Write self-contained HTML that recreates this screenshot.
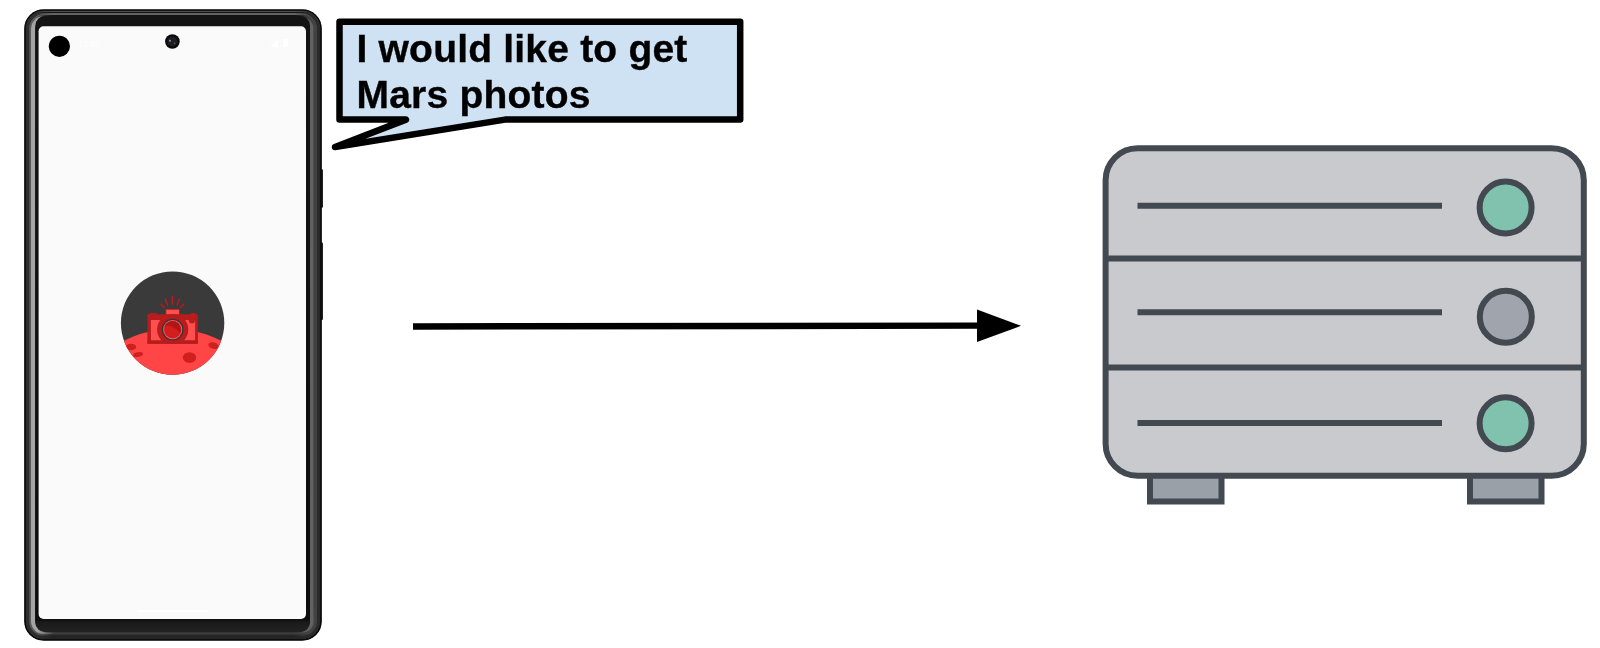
<!DOCTYPE html>
<html><head><meta charset="utf-8">
<style>
html,body{margin:0;padding:0;background:#fff;width:1600px;height:648px;overflow:hidden;}
svg{position:absolute;left:0;top:0;display:block;}
.t{font-family:"Liberation Sans",sans-serif;font-weight:bold;font-size:39px;fill:#000;letter-spacing:0.2px;stroke:#000;stroke-width:0.35px;}
</style></head>
<body>
<svg width="1600" height="648" viewBox="0 0 1600 648">
  <defs>
    <linearGradient id="bzH" x1="0" x2="1" y1="0" y2="0">
      <stop offset="0" stop-color="#1a1a1a"/>
      <stop offset="0.35" stop-color="#2a2a2a"/>
      <stop offset="0.5" stop-color="#5a5a5a"/>
      <stop offset="0.65" stop-color="#2a2a2a"/>
      <stop offset="1" stop-color="#151515"/>
    </linearGradient>
    <clipPath id="mc"><circle cx="172.6" cy="323.1" r="51.7"/></clipPath>
  </defs>

  <!-- PHONE -->
  <defs>
  <linearGradient id="gL1" gradientUnits="userSpaceOnUse" x1="36" x2="52" y1="0" y2="0"><stop offset="0" stop-color="#2e2e2e"/><stop offset="1" stop-color="#2e2e2e" stop-opacity="0"/></linearGradient>
  <linearGradient id="gL2" gradientUnits="userSpaceOnUse" x1="36" x2="52" y1="0" y2="0"><stop offset="0" stop-color="#5a5a5a"/><stop offset="1" stop-color="#5a5a5a" stop-opacity="0"/></linearGradient>
  <linearGradient id="gL3" gradientUnits="userSpaceOnUse" x1="38" x2="54" y1="0" y2="0"><stop offset="0" stop-color="#a5a5a5"/><stop offset="1" stop-color="#a5a5a5" stop-opacity="0"/></linearGradient>
  <linearGradient id="gR1" gradientUnits="userSpaceOnUse" x1="310" x2="294" y1="0" y2="0"><stop offset="0" stop-color="#2a2a2a"/><stop offset="1" stop-color="#2a2a2a" stop-opacity="0"/></linearGradient>
  <linearGradient id="gR2" gradientUnits="userSpaceOnUse" x1="310" x2="294" y1="0" y2="0"><stop offset="0" stop-color="#424242"/><stop offset="1" stop-color="#424242" stop-opacity="0"/></linearGradient>
  <linearGradient id="gR3" gradientUnits="userSpaceOnUse" x1="308" x2="292" y1="0" y2="0"><stop offset="0" stop-color="#626262"/><stop offset="1" stop-color="#626262" stop-opacity="0"/></linearGradient>
  <linearGradient id="gT1" gradientUnits="userSpaceOnUse" x1="0" x2="0" y1="20" y2="34"><stop offset="0" stop-color="#4e4e4e"/><stop offset="1" stop-color="#4e4e4e" stop-opacity="0"/></linearGradient>
  <linearGradient id="gT2" gradientUnits="userSpaceOnUse" x1="0" x2="0" y1="20" y2="34"><stop offset="0" stop-color="#646464"/><stop offset="1" stop-color="#646464" stop-opacity="0"/></linearGradient>
  <linearGradient id="gIn" gradientUnits="userSpaceOnUse" x1="0" x2="0" y1="15.8" y2="632.3"><stop offset="0" stop-color="#141414"/><stop offset="0.978" stop-color="#0c0c0c"/><stop offset="0.984" stop-color="#1a1a1a"/><stop offset="1" stop-color="#222"/></linearGradient>
  <linearGradient id="gB1" gradientUnits="userSpaceOnUse" x1="0" x2="0" y1="622" y2="608"><stop offset="0" stop-color="#242424"/><stop offset="1" stop-color="#242424" stop-opacity="0"/></linearGradient>
  <linearGradient id="gB2" gradientUnits="userSpaceOnUse" x1="0" x2="0" y1="622" y2="608"><stop offset="0" stop-color="#3c3c3c"/><stop offset="1" stop-color="#3c3c3c" stop-opacity="0"/></linearGradient>
  <clipPath id="pc"><rect x="24.2" y="9.3" width="297.6" height="631.4" rx="19.5"/></clipPath>
  </defs>
  <!-- side buttons -->
  <rect x="316" y="169.3" width="7" height="38.4" rx="1" fill="#222"/>
  <rect x="316" y="242.4" width="7" height="77.6" rx="1" fill="#222"/>
  <g clip-path="url(#pc)">
    <rect x="24.2" y="9.3" width="297.6" height="631.4" fill="#141414"/>
    <rect x="26.00" y="11.10" width="294.00" height="627.80" rx="17.70" fill="none" stroke="url(#gT1)" stroke-width="1.8"/>
    <rect x="28.90" y="14.00" width="288.20" height="622.00" rx="14.80" fill="none" stroke="url(#gT2)" stroke-width="2.0"/>
    <rect x="28.00" y="13.10" width="290.00" height="623.80" rx="15.70" fill="none" stroke="url(#gB1)" stroke-width="4.5"/>
    <rect x="31.70" y="16.80" width="282.60" height="616.40" rx="12.00" fill="none" stroke="url(#gB2)" stroke-width="3.0"/>
    <rect x="27.45" y="12.55" width="291.10" height="624.90" rx="16.25" fill="none" stroke="url(#gL1)" stroke-width="3.5"/>
    <rect x="30.10" y="15.20" width="285.80" height="619.60" rx="13.60" fill="none" stroke="url(#gL2)" stroke-width="1.8"/>
    <rect x="33.10" y="18.20" width="279.80" height="613.60" rx="10.60" fill="none" stroke="url(#gL3)" stroke-width="4.2"/>
    <rect x="27.50" y="12.60" width="291.00" height="624.80" rx="16.20" fill="none" stroke="url(#gR1)" stroke-width="3.0"/>
    <rect x="30.70" y="15.80" width="284.60" height="618.40" rx="13.00" fill="none" stroke="url(#gR2)" stroke-width="3.4"/>
    <rect x="34.20" y="19.30" width="277.60" height="611.40" rx="9.50" fill="none" stroke="url(#gR3)" stroke-width="3.7"/>
    <rect x="35.3" y="15.8" width="274.7" height="616.5" rx="10" fill="url(#gIn)"/>
    <rect x="24.95" y="10.05" width="296.1" height="629.9" rx="18.8" fill="none" stroke="#0a0a0a" stroke-width="1.5"/>
  </g>
  <!-- screen -->
  <rect x="38.6" y="26.3" width="267.4" height="592.7" rx="5" fill="#fafafa"/>
  <!-- status bar -->
  <circle cx="59.4" cy="46.3" r="10.6" fill="#000"/>
  <text x="78.4" y="46.9" font-family="Liberation Sans" font-size="8.8" textLength="21.8" lengthAdjust="spacingAndGlyphs" fill="#fff">12:00</text>
  <path d="M270 47.3 L278 39 L278 47.3 Z" fill="#fff"/>
  <rect x="283" y="39" width="5" height="8.3" rx="1" fill="#fff"/>
  <!-- camera -->
  <circle cx="172.4" cy="41.5" r="7.3" fill="#0a0a0a"/>
  <circle cx="172.4" cy="41.5" r="5" fill="#1e1e22"/>
  <circle cx="170" cy="40.7" r="1" fill="#8a9a8a"/>
  <circle cx="174.6" cy="43.2" r="0.8" fill="#3a6aa0"/>
  <!-- home indicator -->
  <rect x="138" y="610" width="70" height="2" rx="1" fill="#ffffff"/>

  <!-- MARS ICON -->
  <circle cx="172.6" cy="323.1" r="51.7" fill="#3a3a3a"/>
  <g clip-path="url(#mc)">
    <circle cx="172.6" cy="434.5" r="105.5" fill="#ff4545"/>
    <ellipse cx="131" cy="347" rx="5.3" ry="3.2" fill="#cf1f1f"/>
    <ellipse cx="138.1" cy="354.6" rx="5" ry="2.3" fill="#cf1f1f" transform="rotate(-12 138.1 354.6)"/>
    <ellipse cx="189.5" cy="357.6" rx="6.7" ry="5.3" fill="#cf1f1f"/>
    <ellipse cx="213.5" cy="345.7" rx="5.3" ry="3.2" fill="#cf1f1f" transform="rotate(15 213.5 345.7)"/>
  </g>
  <!-- camera icon -->
  <g stroke="#b81c1c" stroke-width="1.5" stroke-linecap="butt">
    <line x1="172.4" y1="295.7" x2="172.4" y2="304.8"/>
    <line x1="165.2" y1="298.5" x2="167.8" y2="305.7"/>
    <line x1="179.6" y1="298.5" x2="177" y2="305.7"/>
    <line x1="160.6" y1="303.7" x2="164.5" y2="307.8"/>
    <line x1="184.2" y1="303.7" x2="180.3" y2="307.8"/>
  </g>
  <rect x="165.5" y="309" width="14.3" height="6" fill="#b81c1c"/>
  <rect x="166.3" y="309.8" width="12.7" height="5" fill="#ff4f4f"/>
  <rect x="150" y="313" width="6.7" height="2" fill="#b81c1c"/>
  <rect x="190.7" y="313" width="4.7" height="2" fill="#b81c1c"/>
  <rect x="147.4" y="314.3" width="50.5" height="29.4" fill="#b81c1c"/>
  <rect x="150.9" y="320" width="44.2" height="20.5" fill="#ff4f4f"/>
  <circle cx="191.9" cy="320.4" r="3" fill="#b81c1c"/>
  <clipPath id="bodyc"><rect x="147.4" y="300" width="50.5" height="43.7"/></clipPath><circle cx="172.7" cy="329.6" r="15.6" fill="#b81c1c" clip-path="url(#bodyc)"/>
  <rect x="147.4" y="340.5" width="50.5" height="3.2" fill="#b81c1c"/>
  <circle cx="172.7" cy="329.6" r="10.9" fill="#2e3a3a"/>
  <circle cx="172.7" cy="329.6" r="9.6" fill="#ff5a5a"/>
  <circle cx="172.7" cy="329.6" r="8.7" fill="#d41e1e"/>
  <path d="M164.2 327 Q168 324.5 172 326.5 Q175.5 328.5 180.5 332.5 Q181.2 326 178 323 Q175 320.8 172.7 320.9 Q166.5 321.3 164.2 327 Z" fill="#b01616"/>

  <!-- SPEECH BUBBLE -->
  <path d="M339.5 21.8 L740.2 21.8 L740.2 119.6 L505 119.6 L335 147 L406 119.6 L339.5 119.6 Z"
        fill="#cfe2f3" stroke="#000" stroke-width="6.5" stroke-linejoin="round"/>
  <g style="will-change:transform"><text class="t" x="356.5" y="61.5">I would like to get</text>
  <text class="t" x="356.5" y="108.2">Mars photos</text></g>

  <!-- ARROW -->
  <path d="M413 323.2 L979 322.4 L979 328.8 L413 329.7 Z" fill="#000"/>
  <path d="M977 309.5 L1021 325.8 L977 342 Z" fill="#000"/>

  <!-- SERVER -->
  <g stroke="#434950" stroke-width="6" fill="#9aa0a8">
    <rect x="1150" y="460" width="71.5" height="41.5"/>
    <rect x="1470" y="460" width="71.5" height="41.5"/>
  </g>
  <rect x="1105.6" y="148.3" width="478.2" height="327.5" rx="32" fill="#c9cace" stroke="#434950" stroke-width="6"/>
  <g stroke="#434950" stroke-width="6">
    <line x1="1105.6" y1="258.5" x2="1583.8" y2="258.5"/>
    <line x1="1105.6" y1="367.5" x2="1583.8" y2="367.5"/>
    <line x1="1137.5" y1="205.8" x2="1442" y2="205.8"/>
    <line x1="1137.5" y1="312.2" x2="1442" y2="312.2"/>
    <line x1="1137.5" y1="423" x2="1442" y2="423"/>
  </g>
  <g stroke="#434950" stroke-width="6">
    <circle cx="1505.6" cy="207.4" r="26" fill="#80c2ae"/>
    <circle cx="1505.8" cy="316.7" r="26" fill="#a0a4ad"/>
    <circle cx="1505.6" cy="423.3" r="26" fill="#80c2ae"/>
  </g>
</svg>
</body></html>
